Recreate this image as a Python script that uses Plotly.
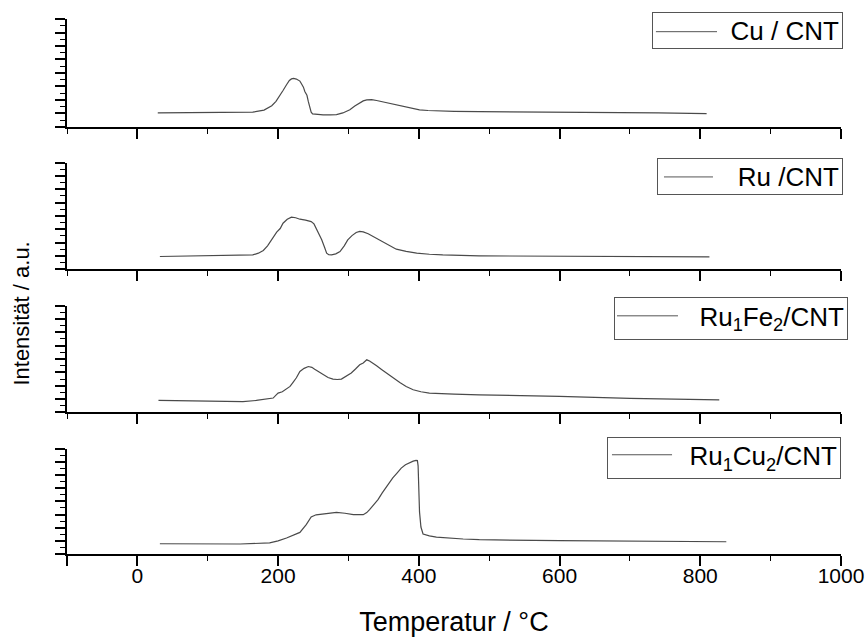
import plotly.graph_objects as go

# ---- data (temperature in °C, intensity in a.u., each panel 0..8) ----
cu_T = [29, 79, 120, 164, 180, 191, 197, 202, 207, 212, 216, 219, 222, 226, 229, 231, 233, 236, 238, 241, 243,
        245, 247, 249, 256, 264, 274, 283, 292, 302, 309, 316, 321, 326, 333, 340, 350, 363, 372, 382, 391, 401,
        413, 425, 450, 486, 560, 657, 740, 809]
cu_I = [1.04, 1.06, 1.07, 1.10, 1.25, 1.57, 1.90, 2.26, 2.70, 3.13, 3.45, 3.56, 3.60, 3.55, 3.42, 3.40, 3.22,
        2.95, 2.63, 2.35, 1.87, 1.40, 1.10, 0.97, 0.92, 0.90, 0.90, 0.92, 1.04, 1.27, 1.55, 1.79, 1.93, 2.01,
        2.02, 1.96, 1.85, 1.72, 1.60, 1.49, 1.37, 1.27, 1.22, 1.19, 1.16, 1.14, 1.12, 1.10, 1.04, 0.99]

ru_T = [32, 112, 164, 172, 179, 185, 191, 198, 203, 207, 213, 219, 225, 231, 239, 247, 251, 254, 258, 262, 266,
        269, 272, 276, 282, 288, 294, 299, 305, 311, 316, 321, 328, 335, 342, 349, 358, 368, 382, 397, 415, 434,
        486, 600, 700, 813]
ru_I = [0.95, 1.00, 1.07, 1.20, 1.40, 1.75, 2.20, 2.78, 3.05, 3.45, 3.75, 3.90, 3.86, 3.75, 3.68, 3.57, 3.40,
        3.08, 2.65, 2.20, 1.65, 1.20, 1.08, 1.07, 1.15, 1.32, 1.75, 2.20, 2.52, 2.75, 2.84, 2.80, 2.66, 2.45,
        2.25, 2.03, 1.78, 1.50, 1.33, 1.20, 1.12, 1.07, 1.00, 0.96, 0.94, 0.92]

rufe_T = [30, 84, 150, 169, 185, 193, 197, 200, 206, 212, 217, 221, 226, 231, 237, 243, 248, 252, 258, 264, 271,
          278, 284, 290, 297, 304, 310, 316, 321, 326, 330, 335, 340, 347, 354, 363, 373, 382, 392, 403, 415, 450,
          486, 600, 700, 827]
rufe_I = [0.90, 0.87, 0.82, 0.90, 1.00, 1.08, 1.30, 1.45, 1.55, 1.75, 1.95, 2.24, 2.60, 3.07, 3.30, 3.44, 3.38,
          3.24, 3.05, 2.82, 2.62, 2.50, 2.47, 2.50, 2.70, 2.95, 3.25, 3.57, 3.70, 3.94, 3.85, 3.70, 3.49, 3.22,
          2.95, 2.60, 2.24, 1.95, 1.70, 1.55, 1.45, 1.38, 1.32, 1.21, 1.06, 0.95]

rucu_T = [32, 146, 188, 200, 212, 222, 231, 240, 244, 247, 254, 264, 273, 283, 295, 307, 321, 326, 330, 336,
          342, 348, 354, 363, 369, 375, 381, 387, 392, 396, 398, 399, 400, 401, 403, 406, 415, 425, 463, 486, 600,
          837]
rucu_I = [0.78, 0.76, 0.84, 1.00, 1.22, 1.42, 1.64, 2.23, 2.55, 2.81, 2.98, 3.06, 3.12, 3.16, 3.10, 2.99, 2.99,
          3.15, 3.37, 3.72, 4.13, 4.65, 5.14, 5.78, 6.15, 6.53, 6.78, 6.96, 7.06, 7.11, 7.10, 6.70, 5.00, 3.20,
          2.05, 1.52, 1.38, 1.29, 1.14, 1.09, 1.01, 0.93]

names = ["Cu / CNT", "Ru /CNT", "Ru<sub>1</sub>Fe<sub>2</sub>/CNT", "Ru<sub>1</sub>Cu<sub>2</sub>/CNT"]
x_ticks = [0, 200, 400, 600, 800, 1000]
x_title = "Temperatur / °C"
y_title = "Intensität / a.u."

series = [(cu_T, cu_I), (ru_T, ru_I), (rufe_T, rufe_I), (rucu_T, rucu_I)]

# ---- layout geometry ----
domains = [[0.7982, 1.0], [0.5324, 0.7316], [0.2645, 0.4644], [0.0, 0.1967]]
# legend boxes in paper coords: right edge, centre y, inner width, inner height
leg_right = [1.0026, 1.0026, 1.009, 1.0]
leg_cy = [0.9785, 0.7058, 0.4405, 0.1799]
leg_w = [183, 178, 226, 226]
leg_h = [29, 29, 35, 34]
# legend sample line: x0, x1, y in paper coords
leg_line = [(0.7609, 0.8398, 0.9763), (0.7713, 0.8346, 0.7048), (0.7106, 0.7894, 0.4452), (0.7041, 0.7817, 0.1855)]

FONT = "Liberation Sans, Arial, sans-serif"
LINE = "#4a4a4a"

fig = go.Figure()
for i, (T, I) in enumerate(series):
    n = "" if i == 0 else str(i + 1)
    fig.add_trace(go.Scatter(
        x=T, y=I, mode="lines", name=names[i],
        line=dict(color=LINE, width=1.2),
        xaxis="x" + n, yaxis="y" + n, showlegend=False,
    ))

layout = dict(
    width=865, height=640,
    paper_bgcolor="white", plot_bgcolor="white",
    margin=dict(l=67, r=24, t=19, b=86, autoexpand=False),
    font=dict(family=FONT, color="black", size=21),
    showlegend=False,
)

for i in range(4):
    n = "" if i == 0 else str(i + 1)
    xa = dict(
        domain=[0, 1], range=[-100, 1000], anchor="y" + n, automargin=False,
        showline=True, linecolor="black", linewidth=2, mirror=False,
        showgrid=False, zeroline=False,
        ticks="outside", ticklen=10, tickwidth=1.6, tickcolor="black",
        tickvals=x_ticks + [-100], ticktext=[str(v) for v in x_ticks] + [""],
        minor=dict(ticks="outside", ticklen=5, tickwidth=1.4, tickcolor="black", dtick=100, tick0=0),
        showticklabels=(i == 3),
        tickfont=dict(size=21, family=FONT, color="black"),
    )
    if i > 0:
        xa["matches"] = "x"
    if i == 3:
        xa["title"] = dict(text=x_title, font=dict(size=27, family=FONT, color="black"), standoff=26)
        xa["ticklabelstandoff"] = -8
    ya = dict(
        domain=domains[i], range=[0, 8], anchor="x" + n, automargin=False,
        showline=True, linecolor="black", linewidth=2,
        showgrid=False, zeroline=False,
        ticks="outside", ticklen=10, tickwidth=1.6, tickcolor="black",
        dtick=1, tick0=0, showticklabels=False,
        minor=dict(ticks="outside", ticklen=5, tickwidth=1.4, tickcolor="black", dtick=0.5, tick0=0),
        fixedrange=True,
    )
    layout["xaxis" + n] = xa
    layout["yaxis" + n] = ya

fig.update_layout(**layout)

# legend boxes (one per panel)
for i in range(4):
    fig.add_annotation(
        text=names[i], xref="paper", yref="paper",
        x=leg_right[i], y=leg_cy[i], xanchor="right", yanchor="middle",
        width=leg_w[i], height=leg_h[i], align="right", valign="middle",
        showarrow=False, bgcolor="rgba(0,0,0,0)", bordercolor="#555555", borderwidth=1, borderpad=3,
        font=dict(size=26, family=FONT, color="black"),
    )
    x0, x1, yl = leg_line[i]
    fig.add_shape(type="line", xref="paper", yref="paper", x0=x0, x1=x1, y0=yl, y1=yl,
                  line=dict(color="#555555", width=1))

fig.add_annotation(
    text=y_title, textangle=-90, xref="paper", yref="paper",
    x=-0.059, y=0.45, xanchor="center", yanchor="middle", showarrow=False,
    font=dict(size=22, family=FONT, color="black"),
)

# remove the default page margin so the 865x640 figure fills the window exactly
fig.write_html("out.html", config={"displayModeBar": False},
               post_script="document.body.style.margin='0px';")
